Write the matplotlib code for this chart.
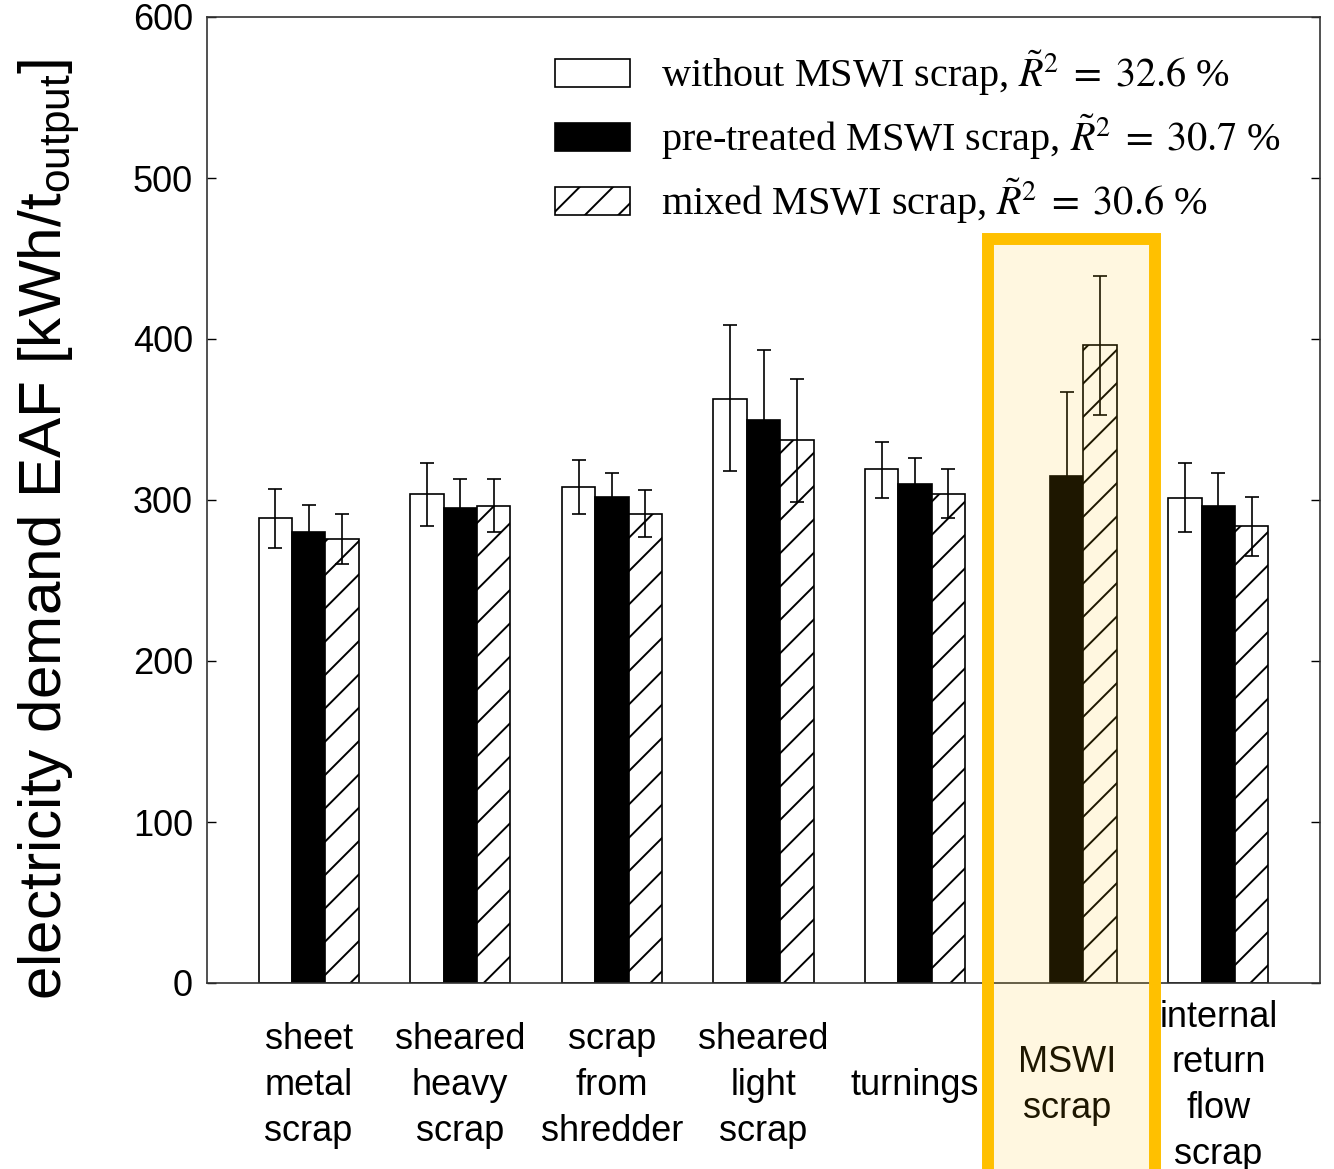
import numpy as np
import matplotlib.pyplot as plt
from matplotlib.patches import Patch, Rectangle
from matplotlib.font_manager import FontProperties

# ── data ──────────────────────────────────────────────────────────────────────
categories = ["sheet\nmetal\nscrap", "sheared\nheavy\nscrap", "scrap\nfrom\nshredder",
              "sheared\nlight\nscrap", "turnings", "MSWI\nscrap",
              "internal\nreturn\nflow\nscrap"]

without_mswi = [289, 304, 308, 363, 319, np.nan, 301]
without_hi   = [307, 323, 325, 409, 336, np.nan, 323]
without_lo   = [270, 284, 291, 318, 301, np.nan, 280]

pretreated    = [280, 295, 302, 350, 310, 315, 296]
pretreated_hi = [297, 313, 317, 393, 326, 367, 317]
pretreated_lo = [263, 277, 287, 307, 294, 263, 275]

mixed    = [276, 296, 291, 337, 304, 396, 284]
mixed_hi = [291, 313, 306, 375, 319, 439, 302]
mixed_lo = [260, 280, 277, 299, 289, 353, 265]

labels = [r"without MSWI scrap, $\tilde{R}^2\;=\;32.6$ %",
          r"pre-treated MSWI scrap, $\tilde{R}^2\;=\;30.7$ %",
          r"mixed MSWI scrap, $\tilde{R}^2\;=\;30.6$ %"]

# ── style ─────────────────────────────────────────────────────────────────────
plt.rcParams['font.family'] = ['Liberation Sans', 'DejaVu Sans']
plt.rcParams['mathtext.fontset'] = 'custom'
plt.rcParams['mathtext.rm'] = 'Liberation Sans'
plt.rcParams['mathtext.it'] = 'Liberation Sans:italic'
plt.rcParams['hatch.linewidth'] = 0.7

fig = plt.figure(figsize=(6.67, 5.845), dpi=200)
ax = fig.add_axes([207/1334, 1 - 983/1169, 1113/1334, 966/1169])

x = np.arange(1, len(categories) + 1)
w = 0.22
lw = 0.6
series = [
    (without_mswi, without_hi, without_lo, dict(facecolor="white")),
    (pretreated, pretreated_hi, pretreated_lo, dict(facecolor="black")),
    (mixed, mixed_hi, mixed_lo, dict(facecolor="white", hatch="//")),
]
for i, (vals, hi, lo, kw) in enumerate(series):
    vals = np.array(vals, float)
    err = [vals - np.array(lo, float), np.array(hi, float) - vals]
    xs = x + (i - 1) * w
    ax.bar(xs, vals, w, edgecolor="black", linewidth=lw, zorder=2, **kw)
    ax.errorbar(xs, vals, yerr=err, fmt="none", ecolor="black",
                elinewidth=lw, capsize=2.5, capthick=lw, zorder=3)

ax.set_xlim(0.33, 7.67)
ax.set_ylim(0, 600)
ax.set_yticks(range(0, 601, 100))
ax.tick_params(axis="y", direction="in", left=True, right=True, length=3.2,
               width=0.5, labelsize=13, pad=5)
ax.set_xticks(x)
ax.set_xticklabels(categories, fontsize=13, linespacing=1.4)
for t in ax.get_xticklabels():
    t.set_va("center")
ax.tick_params(axis="x", length=0, pad=37)
for s in ax.spines.values():
    s.set_linewidth(0.6)
    s.set_color("#333333")

fig.text(49/1334, 1 - 530/1169, r"electricity demand EAF [kWh/t$_{\mathrm{output}}$]",
         rotation=90, ha="center", va="center", fontsize=21.7)

handles = [Patch(facecolor="white", edgecolor="black", linewidth=lw),
           Patch(facecolor="black", edgecolor="black", linewidth=lw),
           Patch(facecolor="white", edgecolor="black", linewidth=lw, hatch="//")]
ax.legend(handles, labels, loc="upper left", bbox_to_anchor=(0.3127, 0.967),
          frameon=False, borderaxespad=0, borderpad=0,
          prop=FontProperties(family="Liberation Serif", size=14.5, math_fontfamily="stix"),
          handlelength=1.87, handleheight=0.7, handletextpad=0.75, labelspacing=0.36)

# highlighted MSWI group
fig.patches.append(Rectangle((988/1334, -0.05), (1155 - 988)/1334, (1169 - 239)/1169 + 0.05,
                             transform=fig.transFigure, facecolor=(1, 0.753, 0, 0.12),
                             edgecolor="#FFC000", linewidth=4.3, zorder=5))

fig.savefig("out.png", dpi=200)
